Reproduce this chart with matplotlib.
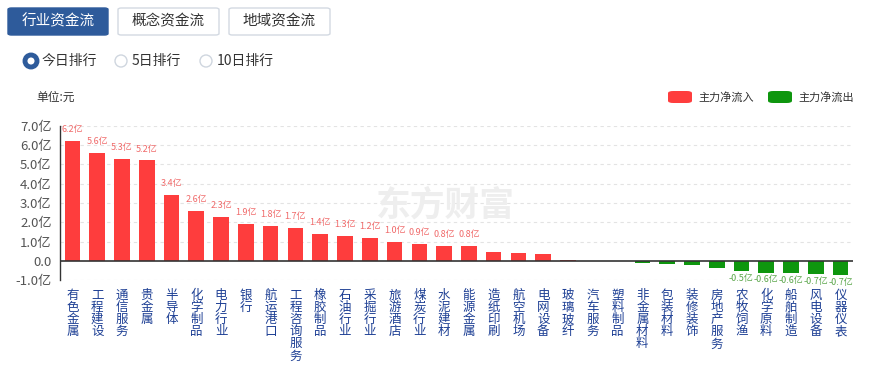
import matplotlib
matplotlib.use("Agg")
import matplotlib.pyplot as plt
from matplotlib.patches import FancyBboxPatch, Circle
import numpy as np

plt.rcParams['font.family'] = ['Noto Sans CJK SC', 'DejaVu Sans']

# data (亿元)
industries = ["有色金属", "工程建设", "通信服务", "贵金属", "半导体", "化学制品", "电力行业",
              "银行", "航运港口", "工程咨询服务", "橡胶制品", "石油行业", "采掘行业", "旅游酒店",
              "煤炭行业", "水泥建材", "能源金属", "造纸印刷", "航空机场", "电网设备", "玻璃玻纤",
              "汽车服务", "塑料制品", "非金属材料", "包装材料", "装修装饰", "房地产服务",
              "农牧饲渔", "化学原料", "船舶制造", "风电设备", "仪器仪表"]
net_flow = [6.2, 5.6, 5.3, 5.2, 3.4, 2.6, 2.3, 1.9, 1.8, 1.7, 1.4, 1.3, 1.2, 1.0, 0.9, 0.8, 0.8,
            0.45, 0.40, 0.36, 0.05, 0.01, -0.02, -0.09, -0.17, -0.2, -0.34,
            -0.53, -0.6, -0.63, -0.69, -0.74]
y_ticks = [-1, 0, 1, 2, 3, 4, 5, 6, 7]
y_labels = ["-1.0亿", "0.0", "1.0亿", "2.0亿", "3.0亿", "4.0亿", "5.0亿", "6.0亿", "7.0亿"]

RED = "#fe3d3d"
GREEN = "#0e960e"
W, H = 872, 365

fig = plt.figure(figsize=(W / 100, H / 100), dpi=100)


def fx(px):
    return px / W


def fy(py):
    return 1 - py / H


# top tabs
tabs = [("行业资金流", 8, 108, True), ("概念资金流", 118, 219, False), ("地域资金流", 229, 330, False)]
for label, x0, x1, active in tabs:
    box = FancyBboxPatch((fx(x0), fy(35)), fx(x1 - x0), (35 - 8) / H,
                         boxstyle="round,pad=0,rounding_size=0.004",
                         transform=fig.transFigure,
                         facecolor="#2e5b9b" if active else "white",
                         edgecolor="#2e5b9b" if active else "#d3d9e2", linewidth=1)
    fig.patches.append(box)
    fig.text(fx((x0 + x1) / 2), fy(21.5), label, ha="center", va="center", fontsize=10.5,
             color="white" if active else "#333333")

# radio buttons
radios = [("今日排行", 31, True), ("5日排行", 121, False), ("10日排行", 206, False)]
for label, cx, sel in radios:
    c = Circle((cx, H - 61), 6, transform=None, facecolor="white",
               edgecolor="#2e5b9b" if sel else "#cfd6df", linewidth=3.5 if sel else 1)
    fig.patches.append(c)
    fig.text(fx(cx + 11), fy(61), label, ha="left", va="center", fontsize=10, color="#333333")

fig.text(fx(36), fy(97), "单位:元", ha="left", va="center", fontsize=8.5, color="#333333")

# legend
for x0, col, label in [(668, RED, "主力净流入"), (768, GREEN, "主力净流出")]:
    box = FancyBboxPatch((fx(x0), fy(103)), fx(24), 12 / H,
                         boxstyle="round,pad=0,rounding_size=0.006",
                         transform=fig.transFigure, facecolor=col, edgecolor="none")
    fig.patches.append(box)
    fig.text(fx(x0 + 30), fy(97), label, ha="left", va="center", fontsize=8, color="#333333")

# main axes
ax = fig.add_axes([fx(60), fy(280.3), fx(853 - 60), (280.3 - 125.7) / H])
x = np.arange(len(industries))
colors = [RED if v >= 0 else GREEN for v in net_flow]
ax.bar(x, net_flow, width=0.63, color=colors, zorder=3)
ax.set_xlim(-0.5, len(industries) - 0.5)
ax.set_ylim(-1, 7)

for t in y_ticks:
    if t != 0:
        ax.axhline(t, color="#e3e3e3", linewidth=0.8, linestyle=(0, (3, 3)), zorder=1)
ax.axhline(0, color="#333333", linewidth=1.2, zorder=4)

for xi, v in zip(x, net_flow):
    if v >= 0.5:
        ax.annotate(f"{v:.1f}亿", (xi, v), xytext=(0, 5), textcoords="offset points",
                    ha="center", va="bottom", fontsize=6.5, color="#f06a6a")
    elif v <= -0.5:
        ax.annotate(f"{v:.1f}亿", (xi, v), xytext=(0, -2), textcoords="offset points",
                    ha="center", va="top", fontsize=6.5, color="#5aa64a")

ax.set_yticks(y_ticks)
ax.set_yticklabels(y_labels, fontsize=9.5, color="#555555")
ax.tick_params(axis="y", length=0, pad=6)
ax.set_xticks(x)
ax.set_xticklabels(["\n".join(n) for n in industries], fontsize=9, color="#1d3f94",
                   linespacing=0.92, va="top")
ax.tick_params(axis="x", length=0, pad=6)
for side in ["top", "right", "bottom"]:
    ax.spines[side].set_visible(False)
ax.spines["left"].set_color("#333333")
ax.spines["left"].set_linewidth(1)

# watermark
fig.text(fx(445), fy(205), "东方财富", ha="center", va="center", fontsize=25,
         fontweight="bold", color="#eeeeee", zorder=0)

fig.savefig("out.png", dpi=100)
